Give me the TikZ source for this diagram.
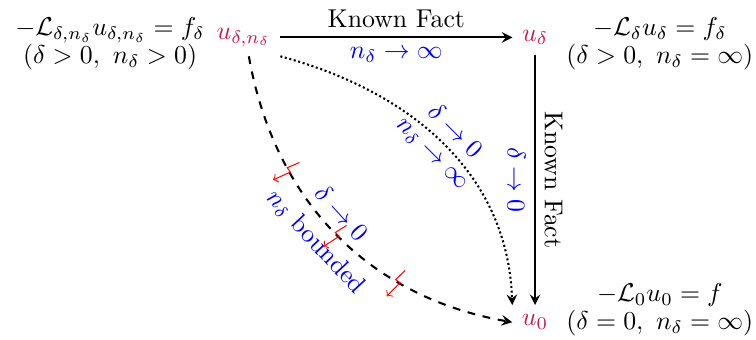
\documentclass[tikz,border=0pt]{standalone}
\usepackage{amsmath,amssymb}
\definecolor{solcol}{RGB}{205,25,85}
\tikzset{
    sol/.style={text=solcol},
    eqn/.style={align=center},
    lbl/.style={text=blue},
    zap/.style={red,thin,-to}
}
\begin{document}
\begin{tikzpicture}[>=stealth, thick]
\useasboundingbox (0,0) rectangle (10.30,4.62);
% the three solutions
\node[sol] (udn) at (3.32,4.11) {$u_{\delta,n_\delta}$};
\node[sol] (ud) at (7.29,4.11) {$u_\delta$};
\node[sol] (uz) at (7.29,0.23) {$u_0$};
% the equations they solve
\node[eqn] (eqdn) at (1.50,4.02) {$-\mathcal{L}_{\delta,n_\delta}u_{\delta,n_\delta}=f_\delta$\\[-1pt]$(\delta>0,\ n_\delta>0)$};
\node[eqn] (eqd) at (8.99,4.02) {$-\mathcal{L}_\delta u_\delta=f_\delta$\\[-1pt]$(\delta>0,\ n_\delta=\infty)$};
\node[eqn] (eqz) at (8.99,0.40) {$-\mathcal{L}_0u_0=f$\\[-1pt]$(\delta=0,\ n_\delta=\infty)$};

\draw[->] (udn) -- node[above]{Known Fact} node[below,lbl]{$n_\delta\to\infty$} (ud);
\draw[->] (ud) -- node[above,sloped]{Known Fact} node[below,sloped,lbl]{$\delta\to0$} (uz);
\draw[->,densely dotted] (udn.south east) to[out=-15,in=92]
    node[above,sloped,lbl]{$\delta\to0$} node[below,sloped,lbl]{$n_\delta\to\infty$} (uz.north west);
\draw[->,dashed] ([xshift=2pt]udn.south) to[out=-80,in=170]
    node[pos=.47,above,sloped,lbl]{$\delta\to0$} node[pos=.48,below,sloped,lbl]{$n_\delta$ bounded}
    coordinate[pos=.29] (zA) coordinate[pos=.5] (zB) coordinate[pos=.7] (zC) (uz.west);

% contradiction marks
\foreach \c/\a in {zA/20,zB/29,zC/41}
{
    \draw[zap,shift={(\c)},rotate=\a] (0.18,0.03) -- (0,0.02) -- (0.02,-0.05) -- (-0.24,-0.07);
}

\end{tikzpicture}
\end{document}
